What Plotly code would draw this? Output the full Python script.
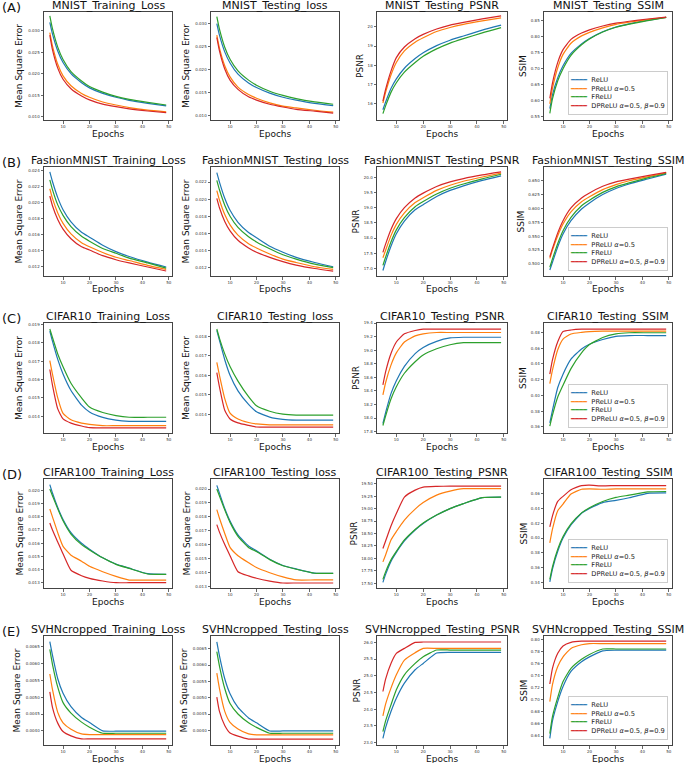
import plotly.graph_objects as go

# ---------------- data ----------------
EPOCHS = [5, 6, 8, 10, 13, 17, 20, 25, 30, 35, 42, 49]
SERIES_KEYS = ["relu", "prelu", "frelu", "dprelu"]
SERIES_NAMES = ["ReLU", "PReLU <i>α</i>=0.5", "FReLU", "DPReLU <i>α</i>=0.5, <i>β</i>=0.9"]
DATASETS = ["MNIST", "FashionMNIST", "CIFAR10", "CIFAR100", "SVHNcropped"]
ROW_TAGS = ["(A)", "(B)", "(C)", "(D)", "(E)"]
METRIC_SUFFIX = ["Training_Loss", "Testing_loss", "Testing_PSNR", "Testing_SSIM"]
Y_TITLES = ["Mean Square Error", "Mean Square Error", "PSNR", "SSIM"]
X_TICKS = [10, 20, 30, 40, 50]

MNIST_TRAIN_LOSS = {
    "relu":   [0.0320, 0.0293, 0.0253, 0.0226, 0.0200, 0.0179, 0.0167, 0.0154, 0.0145, 0.0138, 0.0131, 0.0125],
    "prelu":  [0.0296, 0.0265, 0.0222, 0.0195, 0.0172, 0.0154, 0.0145, 0.0134, 0.0127, 0.0121, 0.0115, 0.0111],
    "frelu":  [0.0335, 0.0305, 0.0262, 0.0233, 0.0205, 0.0183, 0.0170, 0.0157, 0.0147, 0.0140, 0.0133, 0.0127],
    "dprelu": [0.0290, 0.0256, 0.0213, 0.0187, 0.0165, 0.0148, 0.0139, 0.0129, 0.0123, 0.0118, 0.0113, 0.0109],
}
MNIST_TEST_LOSS = {
    "relu":   [0.0299, 0.0274, 0.0238, 0.0214, 0.0190, 0.0171, 0.0161, 0.0149, 0.0140, 0.0134, 0.0127, 0.0122],
    "prelu":  [0.0274, 0.0246, 0.0208, 0.0184, 0.0162, 0.0146, 0.0138, 0.0128, 0.0121, 0.0117, 0.0112, 0.0108],
    "frelu":  [0.0314, 0.0287, 0.0248, 0.0222, 0.0197, 0.0177, 0.0166, 0.0153, 0.0144, 0.0137, 0.0130, 0.0125],
    "dprelu": [0.0269, 0.0240, 0.0201, 0.0177, 0.0157, 0.0141, 0.0134, 0.0125, 0.0119, 0.0114, 0.0110, 0.0106],
}
MNIST_TEST_PSNR = {
    "relu":   [15.70, 16.10, 16.80, 17.30, 17.85, 18.35, 18.65, 19.02, 19.30, 19.52, 19.82, 20.08],
    "prelu":  [16.05, 16.60, 17.50, 18.15, 18.75, 19.20, 19.43, 19.75, 19.96, 20.12, 20.30, 20.46],
    "frelu":  [15.50, 15.90, 16.60, 17.10, 17.65, 18.15, 18.47, 18.85, 19.15, 19.38, 19.68, 19.95],
    "dprelu": [16.15, 16.75, 17.70, 18.40, 18.95, 19.38, 19.60, 19.88, 20.08, 20.22, 20.40, 20.56],
}
MNIST_TEST_SSIM = {
    "relu":   [0.575, 0.618, 0.672, 0.709, 0.748, 0.778, 0.795, 0.816, 0.831, 0.841, 0.852, 0.861],
    "prelu":  [0.590, 0.638, 0.703, 0.745, 0.780, 0.803, 0.814, 0.828, 0.839, 0.846, 0.854, 0.861],
    "frelu":  [0.560, 0.605, 0.662, 0.700, 0.742, 0.775, 0.793, 0.815, 0.830, 0.840, 0.851, 0.861],
    "dprelu": [0.607, 0.655, 0.720, 0.760, 0.792, 0.812, 0.822, 0.834, 0.843, 0.849, 0.856, 0.862],
}

FASHION_TRAIN_LOSS = {
    "relu":   [0.0238, 0.0226, 0.0206, 0.0191, 0.0176, 0.0163, 0.0157, 0.0147, 0.0139, 0.0133, 0.0126, 0.0120],
    "prelu":  [0.0217, 0.0205, 0.0187, 0.0174, 0.0161, 0.0150, 0.0145, 0.0138, 0.0132, 0.0128, 0.0122, 0.0117],
    "frelu":  [0.0228, 0.0216, 0.0197, 0.0184, 0.0170, 0.0158, 0.0152, 0.0143, 0.0137, 0.0131, 0.0125, 0.01185],
    "dprelu": [0.0208, 0.0196, 0.0179, 0.0167, 0.0155, 0.0145, 0.0141, 0.0134, 0.0129, 0.0125, 0.0120, 0.0115],
}
FASHION_TEST_LOSS = {
    "relu":   [0.0231, 0.0220, 0.0201, 0.0187, 0.0173, 0.0161, 0.0155, 0.0145, 0.0138, 0.0132, 0.0126, 0.0121],
    "prelu":  [0.0210, 0.0199, 0.0182, 0.0170, 0.0158, 0.0148, 0.0143, 0.0136, 0.0130, 0.0126, 0.0121, 0.0118],
    "frelu":  [0.0222, 0.0211, 0.0193, 0.0180, 0.0167, 0.0156, 0.0150, 0.0142, 0.0135, 0.0130, 0.0124, 0.0120],
    "dprelu": [0.0201, 0.0190, 0.0174, 0.0163, 0.0152, 0.0143, 0.0138, 0.0132, 0.0127, 0.0123, 0.0119, 0.0116],
}
FASHION_TEST_PSNR = {
    "relu":   [16.93, 17.22, 17.73, 18.14, 18.56, 18.93, 19.10, 19.37, 19.57, 19.72, 19.90, 20.05],
    "prelu":  [17.35, 17.60, 18.08, 18.45, 18.83, 19.17, 19.33, 19.57, 19.74, 19.87, 20.01, 20.14],
    "frelu":  [17.10, 17.37, 17.87, 18.27, 18.67, 19.03, 19.20, 19.45, 19.64, 19.78, 19.95, 20.10],
    "dprelu": [17.53, 17.80, 18.28, 18.64, 19.00, 19.32, 19.48, 19.70, 19.85, 19.96, 20.08, 20.18],
}
FASHION_TEST_SSIM = {
    "relu":   [0.489, 0.503, 0.531, 0.554, 0.578, 0.599, 0.610, 0.625, 0.636, 0.644, 0.653, 0.662],
    "prelu":  [0.510, 0.525, 0.551, 0.572, 0.594, 0.612, 0.621, 0.634, 0.643, 0.650, 0.657, 0.664],
    "frelu":  [0.494, 0.509, 0.537, 0.560, 0.584, 0.605, 0.615, 0.629, 0.639, 0.646, 0.655, 0.663],
    "dprelu": [0.513, 0.528, 0.556, 0.578, 0.601, 0.619, 0.628, 0.640, 0.648, 0.653, 0.659, 0.665],
}

CIFAR10_TRAIN_LOSS = {
    "relu":   [0.01865, 0.0181, 0.0171, 0.0163, 0.0154, 0.0146, 0.01423, 0.01393, 0.01378, 0.01372, 0.01372, 0.01372],
    "prelu":  [0.01704, 0.0163, 0.0150, 0.01415, 0.0138, 0.01362, 0.01355, 0.01348, 0.01348, 0.01348, 0.01348, 0.01348],
    "frelu":  [0.01876, 0.0183, 0.0174, 0.0167, 0.0158, 0.0150, 0.01450, 0.01420, 0.01403, 0.01394, 0.01394, 0.01394],
    "dprelu": [0.01655, 0.0157, 0.0144, 0.01385, 0.01362, 0.01346, 0.01337, 0.01336, 0.01336, 0.01336, 0.01336, 0.01336],
}
CIFAR10_TEST_LOSS = {
    "relu":   [0.01831, 0.0178, 0.0168, 0.0160, 0.0152, 0.0145, 0.01412, 0.01385, 0.01373, 0.01369, 0.01369, 0.01369],
    "prelu":  [0.01666, 0.0160, 0.0148, 0.01405, 0.01375, 0.01357, 0.01350, 0.01345, 0.01345, 0.01345, 0.01345, 0.01345],
    "frelu":  [0.01838, 0.0179, 0.0171, 0.01645, 0.0157, 0.0149, 0.01443, 0.01415, 0.01400, 0.01395, 0.01395, 0.01395],
    "dprelu": [0.01614, 0.0154, 0.0142, 0.01375, 0.01355, 0.01342, 0.01334, 0.01333, 0.01333, 0.01333, 0.01333, 0.01333],
}
CIFAR10_TEST_PSNR = {
    "relu":   [17.92, 18.08, 18.36, 18.55, 18.76, 18.95, 19.04, 19.13, 19.18, 19.19, 19.19, 19.19],
    "prelu":  [18.34, 18.52, 18.78, 18.96, 19.12, 19.21, 19.24, 19.26, 19.26, 19.26, 19.26, 19.26],
    "frelu":  [17.89, 18.03, 18.28, 18.46, 18.66, 18.83, 18.93, 19.02, 19.08, 19.11, 19.11, 19.11],
    "dprelu": [18.49, 18.68, 18.95, 19.12, 19.24, 19.29, 19.31, 19.31, 19.31, 19.31, 19.31, 19.31],
}
CIFAR10_TEST_SSIM = {
    "relu":   [0.365, 0.381, 0.410, 0.427, 0.446, 0.459, 0.465, 0.471, 0.475, 0.476, 0.476, 0.476],
    "prelu":  [0.415, 0.432, 0.458, 0.4715, 0.478, 0.480, 0.481, 0.4815, 0.4815, 0.4815, 0.4815, 0.4815],
    "frelu":  [0.361, 0.375, 0.398, 0.413, 0.434, 0.454, 0.4645, 0.4735, 0.478, 0.4795, 0.4795, 0.4795],
    "dprelu": [0.427, 0.445, 0.468, 0.481, 0.483, 0.484, 0.484, 0.484, 0.484, 0.484, 0.484, 0.484],
}

CIFAR100_TRAIN_LOSS = {
    "relu":   [0.02043, 0.0198, 0.0187, 0.0178, 0.0168, 0.0160, 0.01555, 0.0149, 0.01443, 0.01412, 0.01370, 0.01365],
    "prelu":  [0.01859, 0.0180, 0.0168, 0.01577, 0.0151, 0.01465, 0.01426, 0.01385, 0.01350, 0.01322, 0.01322, 0.01322],
    "frelu":  [0.02010, 0.0196, 0.0186, 0.0177, 0.0167, 0.0159, 0.01550, 0.0149, 0.01441, 0.01410, 0.01368, 0.01365],
    "dprelu": [0.01753, 0.0170, 0.0161, 0.0152, 0.01396, 0.01355, 0.01335, 0.01315, 0.01302, 0.01302, 0.01302, 0.01302],
}
CIFAR100_TEST_LOSS = {
    "relu":   [0.02026, 0.0197, 0.0186, 0.0177, 0.0167, 0.0159, 0.01555, 0.01495, 0.01450, 0.01425, 0.01395, 0.01393],
    "prelu":  [0.01852, 0.0179, 0.0168, 0.0158, 0.0152, 0.0147, 0.01435, 0.01398, 0.01368, 0.01346, 0.01346, 0.01346],
    "frelu":  [0.02000, 0.0195, 0.0185, 0.0176, 0.0166, 0.0158, 0.01550, 0.01492, 0.01448, 0.01423, 0.01394, 0.01393],
    "dprelu": [0.01744, 0.0169, 0.0160, 0.0152, 0.01405, 0.01375, 0.01358, 0.01338, 0.01324, 0.01324, 0.01324, 0.01324],
}
CIFAR100_TEST_PSNR = {
    "relu":   [17.52, 17.68, 17.94, 18.12, 18.35, 18.57, 18.70, 18.87, 19.00, 19.10, 19.22, 19.23],
    "prelu":  [17.93, 18.07, 18.37, 18.54, 18.77, 18.99, 19.12, 19.27, 19.35, 19.40, 19.40, 19.40],
    "frelu":  [17.58, 17.73, 17.97, 18.14, 18.37, 18.58, 18.71, 18.87, 19.00, 19.10, 19.22, 19.23],
    "dprelu": [18.20, 18.35, 18.65, 18.90, 19.23, 19.37, 19.43, 19.445, 19.45, 19.45, 19.45, 19.45],
}
CIFAR100_TEST_SSIM = {
    "relu":   [0.3405, 0.358, 0.382, 0.400, 0.4176, 0.4335, 0.440, 0.448, 0.451, 0.4545, 0.4605, 0.461],
    "prelu":  [0.3935, 0.412, 0.437, 0.446, 0.4595, 0.466, 0.4665, 0.466, 0.4665, 0.4665, 0.4665, 0.4665],
    "frelu":  [0.344, 0.361, 0.385, 0.402, 0.419, 0.434, 0.441, 0.4495, 0.455, 0.458, 0.4625, 0.463],
    "dprelu": [0.415, 0.430, 0.4496, 0.4564, 0.4654, 0.471, 0.4715, 0.4705, 0.471, 0.471, 0.471, 0.471],
}

SVHN_TRAIN_LOSS = {
    "relu":   [0.00665, 0.00625, 0.00555, 0.00512, 0.00472, 0.00440, 0.00425, 0.00400, 0.00399, 0.00399, 0.00399, 0.00399],
    "prelu":  [0.00569, 0.00523, 0.00455, 0.00424, 0.00405, 0.00391, 0.00389, 0.00389, 0.00389, 0.00389, 0.00389, 0.00389],
    "frelu":  [0.00642, 0.00598, 0.00530, 0.00484, 0.00453, 0.00426, 0.00411, 0.00393, 0.00393, 0.00393, 0.00393, 0.00393],
    "dprelu": [0.00516, 0.00470, 0.00423, 0.00398, 0.00385, 0.00376, 0.00376, 0.00376, 0.00376, 0.00376, 0.00376, 0.00376],
}
SVHN_TEST_LOSS = {
    "relu":   [0.00671, 0.00628, 0.00558, 0.00512, 0.00470, 0.00438, 0.00423, 0.00398, 0.00398, 0.00398, 0.00398, 0.00398],
    "prelu":  [0.00575, 0.00528, 0.00458, 0.00424, 0.00404, 0.00389, 0.00386, 0.00386, 0.00386, 0.00386, 0.00386, 0.00386],
    "frelu":  [0.00641, 0.00597, 0.00528, 0.00482, 0.00450, 0.00423, 0.00409, 0.00391, 0.00391, 0.00391, 0.00391, 0.00391],
    "dprelu": [0.00502, 0.00458, 0.00415, 0.00392, 0.00382, 0.00373, 0.00373, 0.00373, 0.00373, 0.00373, 0.00373, 0.00373],
}
SVHN_TEST_PSNR = {
    "relu":   [23.13, 23.45, 23.93, 24.33, 24.78, 25.18, 25.37, 25.68, 25.70, 25.70, 25.70, 25.70],
    "prelu":  [23.80, 24.15, 24.63, 25.03, 25.47, 25.69, 25.82, 25.82, 25.82, 25.82, 25.82, 25.82],
    "frelu":  [23.33, 23.65, 24.13, 24.58, 25.03, 25.37, 25.57, 25.77, 25.77, 25.77, 25.77, 25.77],
    "dprelu": [24.53, 24.90, 25.37, 25.67, 25.82, 26.00, 26.01, 26.01, 26.01, 26.01, 26.01, 26.01],
}
SVHN_TEST_SSIM = {
    "relu":   [0.636, 0.665, 0.697, 0.722, 0.747, 0.763, 0.771, 0.781, 0.782, 0.782, 0.782, 0.782],
    "prelu":  [0.697, 0.725, 0.755, 0.771, 0.785, 0.791, 0.793, 0.793, 0.793, 0.793, 0.793, 0.793],
    "frelu":  [0.644, 0.672, 0.704, 0.730, 0.752, 0.767, 0.775, 0.784, 0.784, 0.784, 0.784, 0.784],
    "dprelu": [0.726, 0.752, 0.777, 0.789, 0.795, 0.797, 0.797, 0.797, 0.797, 0.797, 0.797, 0.797],
}

PANEL_DATA = [
    [MNIST_TRAIN_LOSS, MNIST_TEST_LOSS, MNIST_TEST_PSNR, MNIST_TEST_SSIM],
    [FASHION_TRAIN_LOSS, FASHION_TEST_LOSS, FASHION_TEST_PSNR, FASHION_TEST_SSIM],
    [CIFAR10_TRAIN_LOSS, CIFAR10_TEST_LOSS, CIFAR10_TEST_PSNR, CIFAR10_TEST_SSIM],
    [CIFAR100_TRAIN_LOSS, CIFAR100_TEST_LOSS, CIFAR100_TEST_PSNR, CIFAR100_TEST_SSIM],
    [SVHN_TRAIN_LOSS, SVHN_TEST_LOSS, SVHN_TEST_PSNR, SVHN_TEST_SSIM],
]

# ---------------- styling / layout ----------------
FONT = "DejaVu Sans"
COLORS = ["#1f77b4", "#ff7f0e", "#2ca02c", "#d62728"]
FIG_W, FIG_H = 685, 763
COL_PX = [(44, 172), (211, 339), (377, 507), (544, 672)]
ROW_PX = [(12, 120), (167, 276), (323, 433), (479, 588), (636, 745)]
X_RANGE = [2.8, 51.2]

Y_RANGES = [
    [[0.0092, 0.0344], [0.0091, 0.0324], [15.17, 20.76], [0.539, 0.878]],
    [[0.01088, 0.0244], [0.01102, 0.02376], [16.75, 20.34], [0.4783, 0.6747]],
    [[0.01308, 0.01909], [0.01303, 0.01869], [17.78, 19.40], [0.3523, 0.4919]],
    [[0.01262, 0.02086], [0.01288, 0.02072], [17.406, 19.594], [0.3323, 0.4799]],
    [[0.00358, 0.00682], [0.00355, 0.00689], [22.93, 26.19], [0.6251, 0.8055]],
]
Y_DTICKS = [
    [0.005, 0.005, 1, 0.05],
    [0.002, 0.002, 0.5, 0.025],
    [0.001, 0.001, 0.2, 0.02],
    [0.001, 0.001, 0.25, 0.02],
    [0.0005, 0.0005, 0.5, 0.02],
]
Y_FORMATS = [
    [".3f", ".3f", ".0f", ".2f"],
    [".3f", ".3f", ".1f", ".3f"],
    [".3f", ".3f", ".1f", ".2f"],
    [".3f", ".3f", ".2f", ".2f"],
    [".4f", ".4f", ".1f", ".2f"],
]
YLABEL_SHIFT = [
    [-18, -18, -10, -14],
    [-18, -18, -14, -16],
    [-18, -18, -14, -14],
    [-18, -18, -17, -14],
    [-21, -21, -14, -14],
]

fig = go.Figure()
layout = dict(
    template="none",
    width=FIG_W, height=FIG_H,
    margin=dict(l=0, r=0, t=0, b=0, autoexpand=False),
    paper_bgcolor="white", plot_bgcolor="white",
    font=dict(family=FONT, color="#222"),
    showlegend=False,
)
annotations = []

legend_text = "<br>".join(
    f"<span style='color:{COLORS[k]}'>━━━━</span>\u00a0\u00a0{SERIES_NAMES[k]}"
    for k in range(4)
)

for r in range(5):
    y0p, y1p = ROW_PX[r]
    ydom = [1 - y1p / FIG_H, 1 - y0p / FIG_H]
    for c in range(4):
        idx = r * 4 + c + 1
        xa = "x" if idx == 1 else f"x{idx}"
        ya = "y" if idx == 1 else f"y{idx}"
        xkey = "xaxis" if idx == 1 else f"xaxis{idx}"
        ykey = "yaxis" if idx == 1 else f"yaxis{idx}"
        x0p, x1p = COL_PX[c]
        xdom = [x0p / FIG_W, x1p / FIG_W]
        data = PANEL_DATA[r][c]
        for k, key in enumerate(SERIES_KEYS):
            fig.add_trace(go.Scatter(
                x=EPOCHS, y=data[key], mode="lines", name=SERIES_NAMES[k],
                line=dict(color=COLORS[k], width=1.2, shape="spline", smoothing=0.5),
                xaxis=xa, yaxis=ya, showlegend=False, hoverinfo="skip",
            ))
        common = dict(
            showline=True, linecolor="#444", linewidth=1, mirror=True,
            showgrid=False, zeroline=False, ticks="outside", ticklen=2.5,
            tickwidth=0.8, tickcolor="#444", automargin=False,
            tickfont=dict(size=4, family=FONT, color="#333"),
        )
        layout[xkey] = dict(domain=xdom, anchor=ya, range=X_RANGE, tickvals=X_TICKS, **common)
        layout[ykey] = dict(domain=ydom, anchor=xa, range=Y_RANGES[r][c],
                            dtick=Y_DTICKS[r][c], tick0=0, tickformat=Y_FORMATS[r][c], **common)
        # panel title
        annotations.append(dict(
            text=f"{DATASETS[r]}_{METRIC_SUFFIX[c]}", xref="paper", yref="paper",
            x=(xdom[0] + xdom[1]) / 2, y=ydom[1], xanchor="center", yanchor="bottom",
            yshift=-1, borderpad=0, showarrow=False,
            font=dict(size=11, family=FONT, color="#111"),
        ))
        # x label
        annotations.append(dict(
            text="Epochs", xref="paper", yref="paper",
            x=(xdom[0] + xdom[1]) / 2, y=ydom[0], xanchor="center", yanchor="top",
            yshift=-6.5, showarrow=False, font=dict(size=9, family=FONT, color="#111"),
        ))
        # y label
        annotations.append(dict(
            text=Y_TITLES[c], xref="paper", yref="paper", textangle=-90,
            x=xdom[0], y=(ydom[0] + ydom[1]) / 2, xanchor="right", yanchor="middle",
            xshift=YLABEL_SHIFT[r][c], showarrow=False,
            font=dict(size=9, family=FONT, color="#111"),
        ))
    # row tag
    annotations.append(dict(
        text=ROW_TAGS[r], xref="paper", yref="paper", x=0, y=1 - (y0p - 4.5) / FIG_H,
        xanchor="left", yanchor="middle", showarrow=False,
        font=dict(size=13, family=FONT, color="#111"),
    ))
    # legend box inside the SSIM panel (lower right)
    annotations.append(dict(
        text=legend_text, xref="paper", yref="paper",
        x=(COL_PX[3][1] - 4) / FIG_W, y=1 - (y1p - 5) / FIG_H,
        xanchor="right", yanchor="bottom", align="left", valign="middle",
        width=96, height=40, showarrow=False,
        font=dict(size=6.7, family=FONT, color="#222"),
        bgcolor="rgba(255,255,255,0.8)", bordercolor="#cccccc", borderwidth=1,
        borderpad=1,
    ))

layout["annotations"] = annotations
fig.update_layout(**layout)
fig.write_html(
    "out.html",
    config={"displayModeBar": False, "staticPlot": True},
    post_script="document.body.style.margin='0';document.body.style.overflow='hidden';",
)
